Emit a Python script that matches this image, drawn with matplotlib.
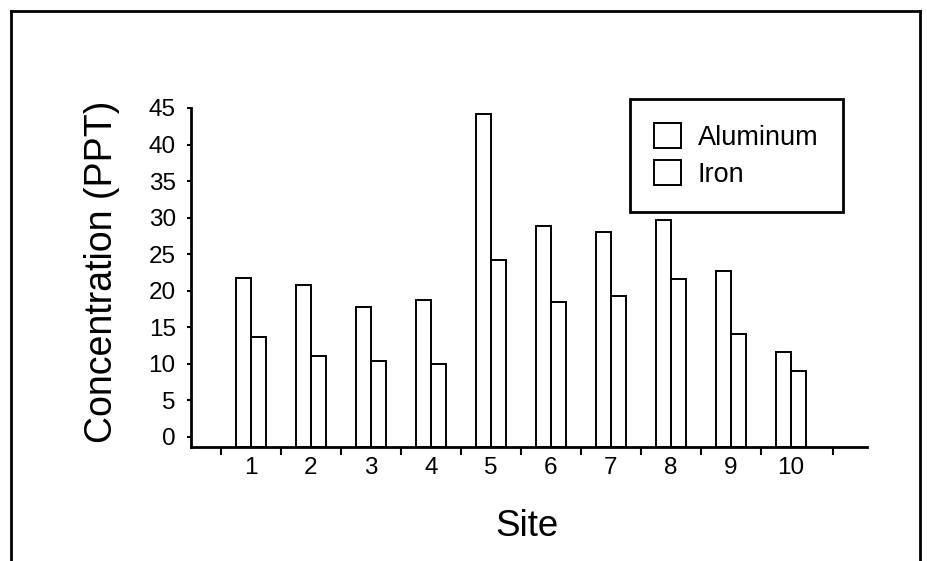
import matplotlib
matplotlib.use("Agg")
import matplotlib.pyplot as plt
from matplotlib.lines import Line2D

# values
sites = [1, 2, 3, 4, 5, 6, 7, 8, 9, 10]
site_labels = ["1", "2", "3", "4", "5", "6", "7", "8", "9", "10"]
aluminum = [21.8, 20.8, 17.8, 18.7, 44.2, 28.9, 28.0, 29.7, 22.7, 11.6]
iron = [13.7, 11.0, 10.4, 10.0, 24.2, 18.5, 19.3, 21.6, 14.0, 9.0]
y_ticks = [0, 5, 10, 15, 20, 25, 30, 35, 40, 45]
sep_ticks = [0.5, 1.5, 2.5, 3.5, 4.5, 5.5, 6.5, 7.5, 8.5, 9.5, 10.7]

plt.rcParams['font.family'] = ['Liberation Sans', 'DejaVu Sans']

W, H = 927, 561
fig = plt.figure(figsize=(W / 100, H / 100), dpi=100)
ax = fig.add_axes([191 / W, 1 - 447 / H, 676 / W, 339 / H])

y_floor = -1.4
width = 0.25
al_x = [s - width / 2 for s in sites]
fe_x = [s + width / 2 for s in sites]
ax.bar(al_x, [v - y_floor for v in aluminum], width, bottom=y_floor,
       color="white", edgecolor="black", linewidth=1.4, label="Aluminum")
ax.bar(fe_x, [v - y_floor for v in iron], width, bottom=y_floor,
       color="white", edgecolor="black", linewidth=1.4, label="Iron")

ax.set_xlim(0, 11.27)
ax.set_ylim(y_floor, 45)

for side in ("top", "right"):
    ax.spines[side].set_visible(False)
for side in ("left", "bottom"):
    ax.spines[side].set_linewidth(2)

ax.set_yticks(y_ticks)
ax.tick_params(axis="y", direction="out", length=3, width=1.5, pad=8, labelsize=17.5)
ax.set_xticks(sites)
ax.set_xticklabels(site_labels)
ax.set_xticks(sep_ticks, minor=True)
ax.tick_params(axis="x", which="major", length=0, pad=7, labelsize=17.5)
ax.tick_params(axis="x", which="minor", direction="out", length=6, width=1.5)

ax.set_ylabel("Concentration (PPT)", fontsize=27)
ax.yaxis.set_label_coords(-0.105, 0.516)
ax.set_xlabel("Site", fontsize=26.5)
ax.xaxis.set_label_coords(0.497, -0.183)

leg = ax.legend(loc="upper left", bbox_to_anchor=(630 / W, 1 - 99 / H),
                bbox_transform=fig.transFigure, fontsize=19.5,
                handlelength=1.0, handleheight=1.05, handletextpad=0.6,
                labelspacing=0.33, borderpad=0.9, borderaxespad=0,
                fancybox=False, framealpha=1, edgecolor="black")
leg.get_frame().set_linewidth(2)

# page frame around the chart (open at the bottom)
frame = dict(color="black", linewidth=2, transform=fig.transFigure)
fig.add_artist(Line2D([11 / W, 11 / W], [0, 1 - 11 / H], **frame))
fig.add_artist(Line2D([11 / W, 920 / W], [1 - 11 / H, 1 - 11 / H], **frame))
fig.add_artist(Line2D([920 / W, 920 / W], [1 - 11 / H, 0], **frame))

fig.savefig("out.png", dpi=100)
